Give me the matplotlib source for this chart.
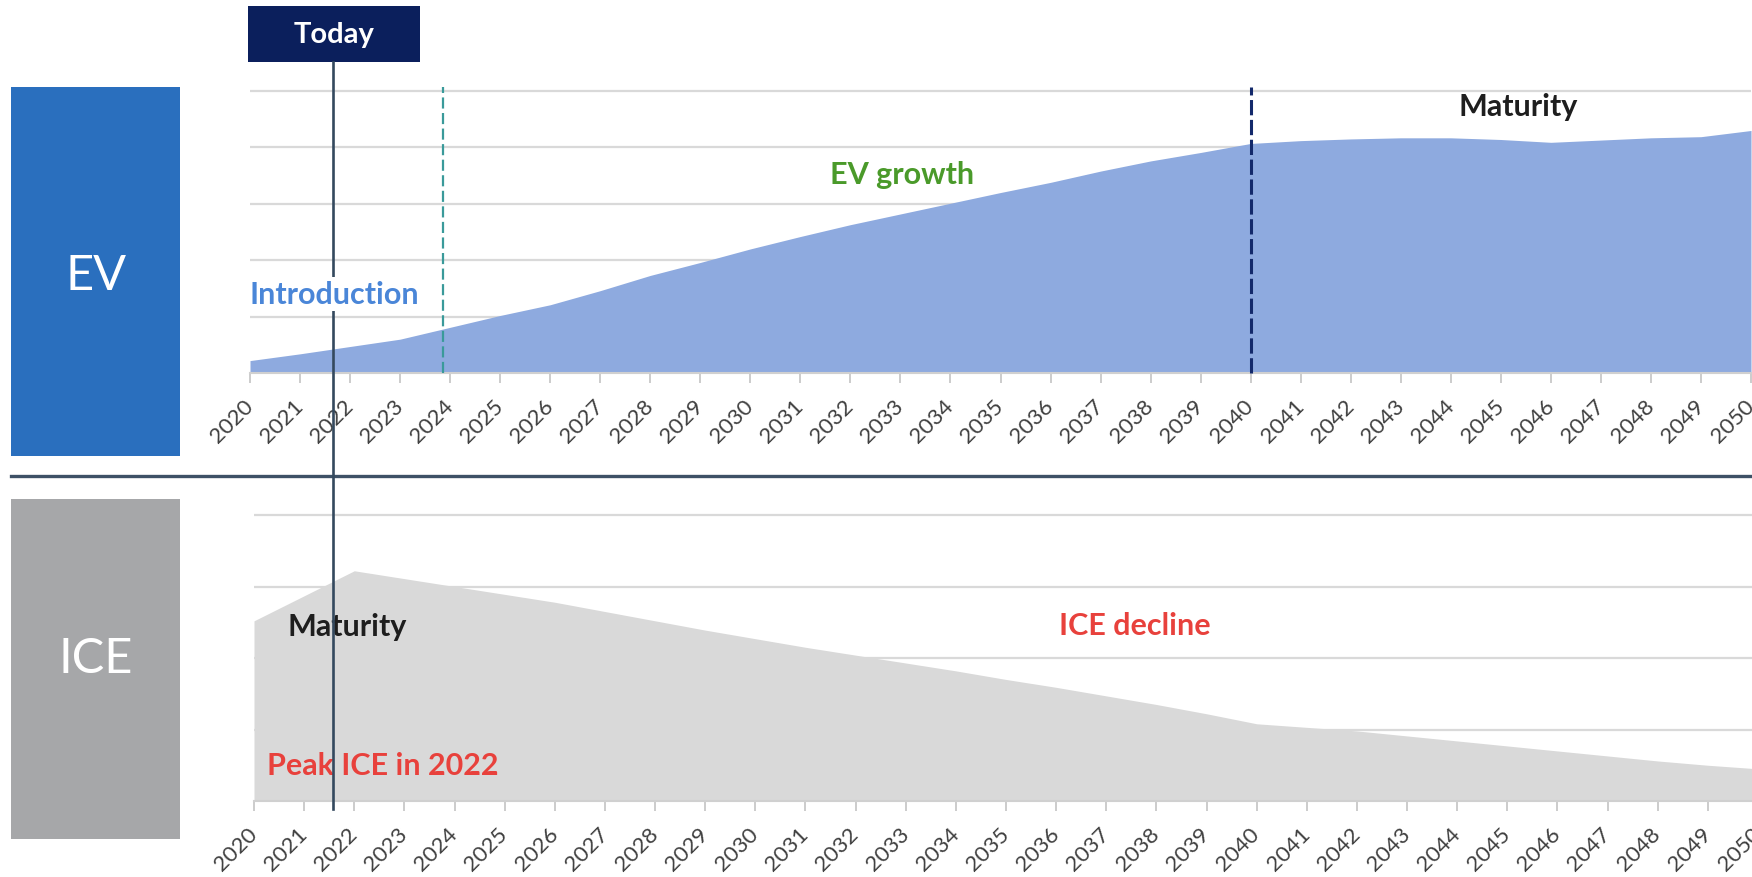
# EV 与 ICE 生命周期对比图（上：EV，下：ICE），输出 out.png
import matplotlib.pyplot as plt
from matplotlib.patches import Rectangle
from matplotlib.lines import Line2D

# ========== 数据 ==========
YEARS = list(range(2020, 2051))
YEAR_LABELS = [str(y) for y in YEARS]

# EV 销量（相对值，读自原图）
EV_SALES = [0.22, 0.34, 0.47, 0.60, 0.81, 1.02, 1.21, 1.46, 1.73, 1.96,
            2.20, 2.42, 2.63, 2.82, 3.01, 3.20, 3.38, 3.58, 3.76, 3.91,
            4.07, 4.12, 4.15, 4.17, 4.17, 4.14, 4.09, 4.13, 4.17, 4.19,
            4.30]

# ICE 销量（相对值，读自原图）
ICE_SALES = [2.52, 2.87, 3.22, 3.11, 3.00, 2.89, 2.78, 2.65, 2.52, 2.39,
             2.27, 2.15, 2.04, 1.93, 1.82, 1.70, 1.59, 1.47, 1.35, 1.22,
             1.08, 1.03, 0.98, 0.91, 0.84, 0.77, 0.70, 0.63, 0.56, 0.50,
             0.45]

TODAY_YEAR = 2021.66
INTRO_END = 2023.86
EV_MATURE = 2040

# ========== 颜色 ==========
EV_BOX = '#2a6fbe'
ICE_BOX = '#a6a7a9'
EV_FILL = '#8eaadf'
ICE_FILL = '#d9d9d9'
NAVY = '#0b1f5c'
SLATE = '#34495e'
GRID = '#d9d9d9'
RED = '#e8413c'

# ========== 画布 ==========
W, H = 1752, 878
plt.rcParams['font.family'] = ['Lato', 'DejaVu Sans']
fig = plt.figure(figsize=(W / 100, H / 100), dpi=100)


def px_rect(x0, y0, x1, y1):
    """像素坐标(左上为原点) -> [left, bottom, width, height]"""
    return [x0 / W, 1 - y1 / H, (x1 - x0) / W, (y1 - y0) / H]


def style_axis(ax, ymax, grid_ticks):
    ax.set_xlim(2020, 2050)
    ax.set_ylim(0, ymax)
    ax.set_yticks(grid_ticks)
    ax.yaxis.grid(True, color=GRID, lw=1.6)
    ax.set_axisbelow(True)
    ax.tick_params(axis='y', length=0, labelleft=False)
    ax.set_xticks(YEARS)
    ax.set_xticklabels(YEAR_LABELS, rotation=45, ha='right', va='center',
                       rotation_mode='anchor', fontsize=16, color='#404040')
    ax.tick_params(axis='x', length=7, width=1.2, color='#c4c4c4', pad=14)
    for s in ['top', 'right', 'left']:
        ax.spines[s].set_visible(False)
    ax.spines['bottom'].set_color('#d0d0d0')
    ax.spines['bottom'].set_linewidth(1.5)
    ax.patch.set_alpha(0)


def side_box(x0, y0, x1, y1, color, label, ty):
    fig.add_artist(Rectangle((x0 / W, 1 - y1 / H), (x1 - x0) / W, (y1 - y0) / H,
                             transform=fig.transFigure, facecolor=color, edgecolor='none'))
    fig.text((x0 + x1) / 2 / W, 1 - ty / H, label, color='white', fontsize=35,
             ha='center', va='center')


# ========== 上图：EV ==========
ax_ev = fig.add_axes(px_rect(250, 374 - 5.1 * 56.4, 1751, 374))
style_axis(ax_ev, 5.1, [1, 2, 3, 4, 5])
ax_ev.fill_between(YEARS, EV_SALES, color=EV_FILL, lw=0, zorder=2)
ax_ev.vlines(INTRO_END, 0, 5.07, colors='#3a9a9a', linestyles=(0, (5, 2)), lw=1.6,
             zorder=3, clip_on=False)
ax_ev.vlines(EV_MATURE, 0, 5.07, colors='#13296b', linestyles=(0, (5, 1.5)), lw=2.2,
             zorder=3, clip_on=False)
ax_ev.text(2033.03, 3.53, 'EV growth', color='#4a9a2a', fontsize=22, fontweight='bold',
           ha='center', va='center', zorder=4)
ax_ev.text(2045.35, 4.74, 'Maturity', color='#1e1e1e', fontsize=22, fontweight='bold',
           ha='center', va='center', zorder=4)

# ========== 下图：ICE ==========
ax_ice = fig.add_axes(px_rect(254, 802 - 4.1 * 71.5, 1758, 802))
style_axis(ax_ice, 4.1, [1, 2, 3, 4])
ax_ice.fill_between(YEARS, ICE_SALES, color=ICE_FILL, lw=0, zorder=2)
ax_ice.text(2021.85, 2.45, 'Maturity', color='#1e1e1e', fontsize=22, fontweight='bold',
            ha='center', va='center', zorder=4)
ax_ice.text(2037.57, 2.46, 'ICE decline', color=RED, fontsize=22, fontweight='bold',
            ha='center', va='center', zorder=4)
ax_ice.text(2022.57, 0.50, 'Peak ICE in 2022', color=RED, fontsize=22, fontweight='bold',
            ha='center', va='center', zorder=4)

# ========== 左侧标签框 ==========
side_box(11, 88, 180, 457, EV_BOX, 'EV', 276)
side_box(11, 500, 180, 840, ICE_BOX, 'ICE', 659)

# ========== 分隔线 ==========
fig.add_artist(Line2D([11 / W, 1], [1 - 477 / H, 1 - 477 / H], transform=fig.transFigure,
                      color='#3e5166', lw=2.4))

# ========== Today 标记 ==========
today_x = fig.transFigure.inverted().transform(ax_ev.transData.transform((TODAY_YEAR, 0)))[0]
fig.add_artist(Line2D([today_x, today_x], [1 - 63 / H, 1 - 810 / H], transform=fig.transFigure,
                      color=SLATE, lw=1.9))
fig.add_artist(Rectangle((248 / W, 1 - 63 / H), 172 / W, 56 / H, transform=fig.transFigure,
                         facecolor=NAVY, edgecolor='none'))
fig.text(334 / W, 1 - 35 / H, 'Today', color='white', fontsize=21, fontweight='bold',
         ha='center', va='center')

# Introduction 文字带白底，遮住 Today 线
fig.text(2020.0, 1.40, 'Introduction', transform=ax_ev.transData, color='#4a86d8',
         fontsize=22, fontweight='bold', ha='left', va='center', zorder=5,
         bbox=dict(facecolor='white', edgecolor='none', pad=2))

fig.savefig('out.png', dpi=100)
